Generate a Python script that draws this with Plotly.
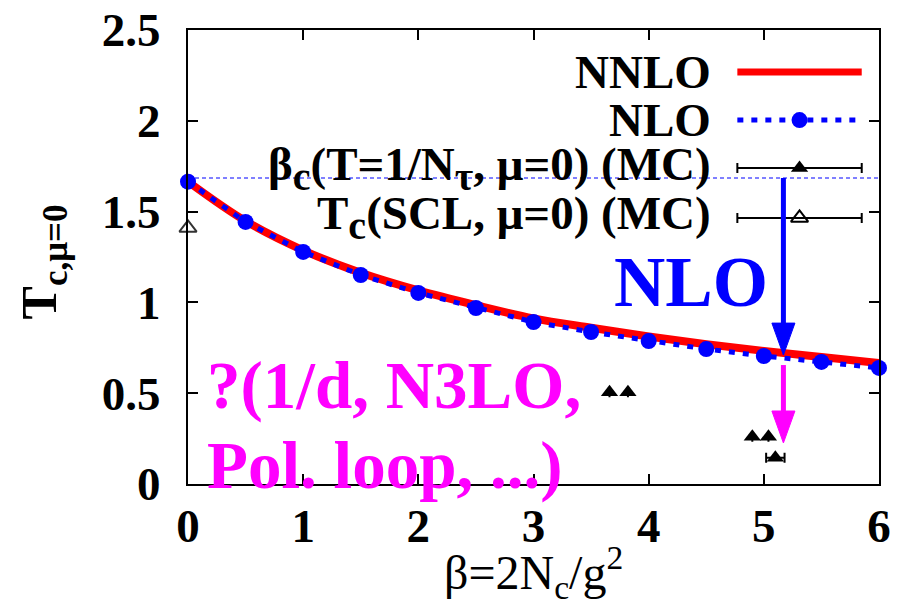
import plotly.graph_objects as go

# ---------------- data ----------------
beta = [0, 0.5, 1, 1.5, 2, 2.5, 3, 3.5, 4, 4.5, 5, 5.5, 6]
tc_nlo = [1.665, 1.443, 1.278, 1.151, 1.052, 0.969, 0.892, 0.837, 0.787, 0.743, 0.705, 0.672, 0.639]
tc_nnlo = [1.665, 1.448, 1.287, 1.163, 1.066, 0.985, 0.912, 0.860, 0.812, 0.770, 0.733, 0.699, 0.666]

mc_beta_x = [3.66, 3.82, 4.90, 5.04, 5.10]
mc_beta_y = [0.505, 0.505, 0.260, 0.260, 0.145]
mc_beta_xerr = [0.0, 0.0, 0.0, 0.0, 0.08]

mc_scl_x = [0.0]
mc_scl_y = [1.41]

tc_strong_coupling = 1.685   # horizontal reference line (beta = 0)

x_ticks = [0, 1, 2, 3, 4, 5, 6]
y_ticks = [0, 0.5, 1, 1.5, 2, 2.5]
y_tick_labels = ["0", "0.5", "1", "1.5", "2", "2.5"]

SUB = '<sub><span style="font-size:40px">{}</span></sub>'
legend_labels = ["NNLO", "NLO",
                 "β" + SUB.format("c") + "(T=1/N" + SUB.format("τ") + ", μ=0) (MC)",
                 "T" + SUB.format("c") + "(SCL, μ=0) (MC)"]
legend_y = [2.269, 2.004, 1.74, 1.465]

arrow_x = 5.17
nlo_arrow = [1.685, 0.71]      # start, tip
mag_arrow = [0.655, 0.226]

RED = "#ff0000"
BLUE = "#0000ff"
MAG = "#ff00ff"
FONT = "Liberation Serif"

fig = go.Figure()

# NNLO curve
fig.add_trace(go.Scatter(x=beta, y=tc_nnlo, mode="lines", line=dict(color=RED, width=8, shape="spline"),
                         showlegend=False, cliponaxis=False))
# NLO
fig.add_trace(go.Scatter(x=beta, y=tc_nlo, mode="lines+markers",
                         line=dict(color=BLUE, width=5, dash="6px,8px"),
                         marker=dict(color=BLUE, size=16), showlegend=False, cliponaxis=False))
# MC beta_c
fig.add_trace(go.Scatter(x=mc_beta_x, y=mc_beta_y, mode="markers",
                         marker=dict(symbol="triangle-up", color="black", size=15),
                         error_x=dict(type="data", array=mc_beta_xerr, color="black", thickness=2, width=5),
                         showlegend=False))
# MC SCL
fig.add_trace(go.Scatter(x=mc_scl_x, y=mc_scl_y, mode="markers",
                         marker=dict(symbol="triangle-up-open", color="#333333", size=15, line=dict(width=2)),
                         showlegend=False, cliponaxis=False))
# horizontal reference line
fig.add_trace(go.Scatter(x=[0, 6], y=[tc_strong_coupling] * 2, mode="lines",
                         line=dict(color=BLUE, width=1, dash="4px,3px"), showlegend=False))

# ---------- legend (drawn manually) ----------
lx0, lx1, lxc = 4.77, 5.85, 5.31
fig.add_trace(go.Scatter(x=[lx0, lx1], y=[legend_y[0]] * 2, mode="lines",
                         line=dict(color=RED, width=7), showlegend=False))
fig.add_trace(go.Scatter(x=[lx0, lx1], y=[legend_y[1]] * 2, mode="lines",
                         line=dict(color=BLUE, width=5, dash="6px,8px"), showlegend=False))
fig.add_trace(go.Scatter(x=[lxc], y=[legend_y[1]], mode="markers",
                         marker=dict(color=BLUE, size=16), showlegend=False))
fig.add_trace(go.Scatter(x=[lxc], y=[legend_y[2]], mode="markers",
                         marker=dict(symbol="triangle-up", color="black", size=15),
                         error_x=dict(type="constant", value=(lx1 - lx0) / 2, color="black", thickness=2, width=5),
                         showlegend=False))
fig.add_trace(go.Scatter(x=[lxc], y=[legend_y[3]], mode="markers",
                         marker=dict(symbol="triangle-up-open", color="black", size=15, line=dict(width=2)),
                         error_x=dict(type="constant", value=(lx1 - lx0) / 2, color="black", thickness=2, width=5),
                         showlegend=False))

annotations = []
for lab, yy in zip(legend_labels, legend_y):
    annotations.append(dict(x=4.555, y=yy, xref="x", yref="y", text=f"<b>{lab}</b>", showarrow=False,
                            xanchor="right", yanchor="middle",
                            font=dict(family=FONT, size=47, color="black")))

# NLO label
annotations.append(dict(x=4.37, y=1.11, xref="x", yref="y", text="<b>NLO</b>", showarrow=False,
                        xanchor="center", yanchor="middle", font=dict(family=FONT, size=71, color=BLUE)))
# magenta text
annotations.append(dict(x=0.15, y=0.54, xref="x", yref="y", text="<b>?(1/d, N3LO,</b>", showarrow=False,
                        xanchor="left", yanchor="middle", font=dict(family=FONT, size=67, color=MAG)))
annotations.append(dict(x=0.145, y=0.10, xref="x", yref="y", text="<b>Pol. loop, ...)</b>", showarrow=False,
                        xanchor="left", yanchor="middle", font=dict(family=FONT, size=67, color=MAG)))
# axis titles
annotations.append(dict(x=-0.21, y=0.49, xref="paper", yref="paper", text="<b>T<sub>c,μ=0</sub></b>",
                        showarrow=False, textangle=-90, xanchor="center", yanchor="middle",
                        font=dict(family=FONT, size=50, color="black")))
annotations.append(dict(x=0.5, y=-0.196, xref="paper", yref="paper", text="β=2N<sub>c</sub>/g<sup>2</sup>",
                        showarrow=False, xanchor="center", yanchor="middle",
                        font=dict(family=FONT, size=48, color="black")))

# arrows as shapes
shapes = []
def arrow(x, y0, y1, color, w):
    hl = 0.176
    hw = 0.1
    shapes.append(dict(type="line", x0=x, x1=x, y0=y0, y1=y1 + hl * 0.5, xref="x", yref="y",
                       line=dict(color=color, width=w)))
    shapes.append(dict(type="path", xref="x", yref="y",
                       path=f"M {x - hw} {y1 + hl} L {x + hw} {y1 + hl} L {x} {y1} Z",
                       fillcolor=color, line=dict(color=color, width=1)))
arrow(arrow_x, nlo_arrow[0], nlo_arrow[1], BLUE, 5)
arrow(arrow_x, mag_arrow[0], mag_arrow[1], MAG, 5)

axis_common = dict(ticks="inside", ticklen=10, tickwidth=2, tickcolor="black", showline=True,
                   linecolor="black", linewidth=2, mirror="ticks", showgrid=False, zeroline=False,
                   ticklabeloverflow="allow", automargin=False,
                   tickfont=dict(family=FONT, size=47, color="black"))

# the page body adds an 8px margin, so the figure is sized to fill the 903x613 window exactly
fig.update_layout(
    width=887, height=597, margin=dict(l=180, r=16, t=22, b=121, autoexpand=False),
    plot_bgcolor="white", paper_bgcolor="white",
    xaxis=dict(range=[0, 6], tickvals=x_ticks, ticktext=[f"<b>{v}</b>" for v in x_ticks], **axis_common),
    yaxis=dict(range=[0, 2.5], tickvals=y_ticks, ticktext=[f"<b>{v}</b>" for v in y_tick_labels], **axis_common),
    annotations=annotations, shapes=shapes,
)
fig.update_xaxes(ticklabelstandoff=0)
fig.update_yaxes(ticklabelstandoff=16)

fig.write_html("out.html")
